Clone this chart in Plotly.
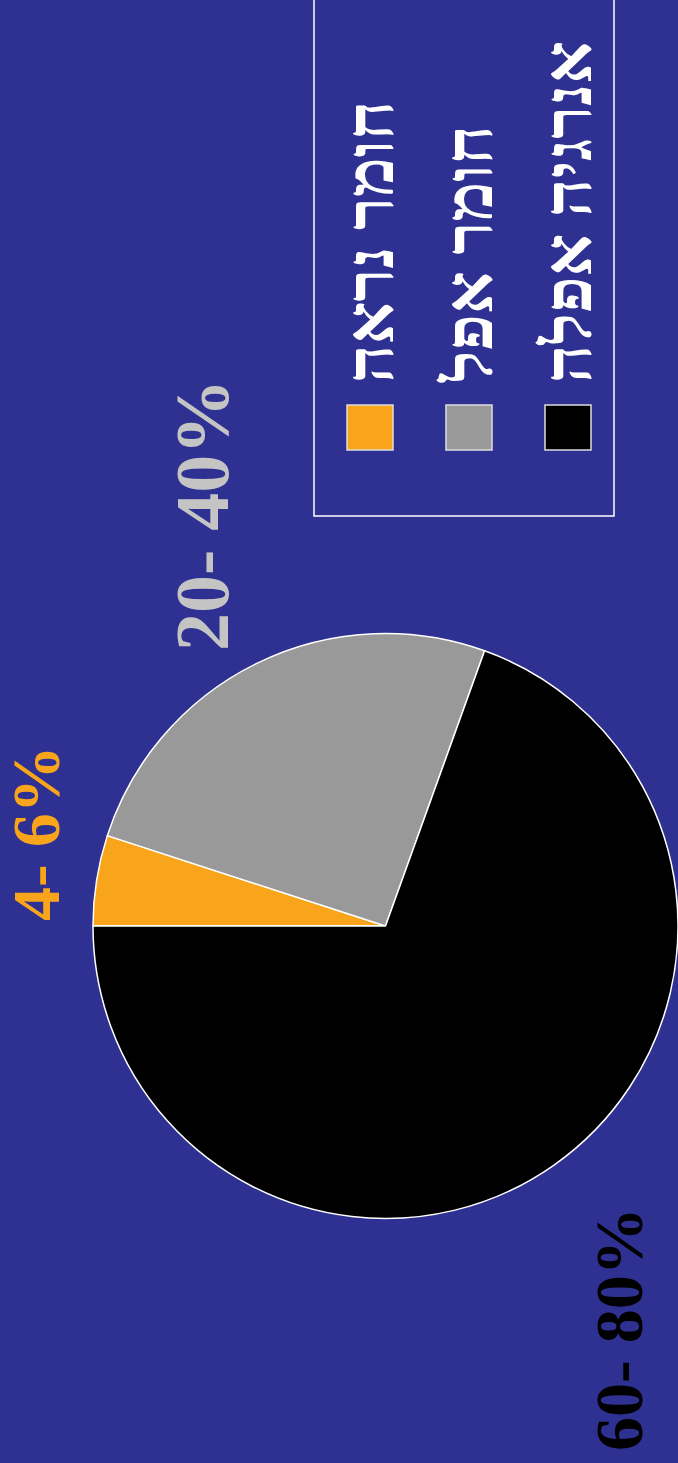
import plotly.graph_objects as go

# Canvas size in CSS pixels
W, H = 678, 1463

# Composition of the universe
components = ["חומר נראה", "חומר אפל", "אנרגיה אפלה"]
shares = [5.0, 25.5, 69.5]
range_labels = ["4- 6%", "20- 40%", "60- 80%"]
slice_colors = ["#F8A51B", "#999999", "#000000"]
label_colors = ["#F8A51B", "#C4C4C4", "#000000"]

BG = "#2E3192"


def px(x):
    return x / W


def py(y):
    return 1 - y / H


# pie geometry (pixels, measured from the top-left corner)
cx, cy, r = 386, 926, 293

fig = go.Figure()
fig.add_trace(go.Pie(
    labels=components,
    values=shares,
    sort=False,
    direction="clockwise",
    rotation=-90,
    marker=dict(colors=slice_colors, line=dict(color="#FFFFFF", width=1.5)),
    textinfo="none",
    hoverinfo="skip",
    showlegend=False,
    domain=dict(x=[px(cx - r), min(1.0, px(cx + r))], y=[py(cy + r), py(cy - r)]),
))

annotations = []
shapes = []

# range labels beside each slice, set vertically
label_pos = [(36, 833, 68), (202, 515, 76), (619, 1329, 68)]
for text, color, (x, y, size) in zip(range_labels, label_colors, label_pos):
    annotations.append(dict(
        text=text, x=px(x), y=py(y), xref="paper", yref="paper",
        xanchor="center", yanchor="middle", textangle=-90, showarrow=False,
        font=dict(family="Liberation Serif", size=size, color=color, weight="bold"),
    ))

# legend frame
shapes.append(dict(
    type="rect", xref="paper", yref="paper",
    x0=px(314), x1=px(614), y0=py(516), y1=py(-10),
    line=dict(color="#FFFFFF", width=1.5), fillcolor="rgba(0,0,0,0)",
))

# legend swatches and vertical entry names
for i, (name, color) in enumerate(zip(components, slice_colors)):
    left = 347 + 99 * i
    shapes.append(dict(
        type="rect", xref="paper", yref="paper",
        x0=px(left), x1=px(left + 46), y0=py(450), y1=py(405),
        line=dict(color="#DDDDDD", width=1.5), fillcolor=color,
    ))
    annotations.append(dict(
        text=name, x=px(left + 23), y=py(385), xref="paper", yref="paper",
        xanchor="center", yanchor="bottom", textangle=-90, showarrow=False,
        font=dict(family="Liberation Serif", size=67, color="#FFFFFF", weight="bold"),
    ))

fig.update_layout(
    width=W, height=H,
    margin=dict(l=0, r=0, t=0, b=0),
    paper_bgcolor=BG, plot_bgcolor=BG,
    annotations=annotations, shapes=shapes,
    showlegend=False,
)

fig.write_html("out.html")
